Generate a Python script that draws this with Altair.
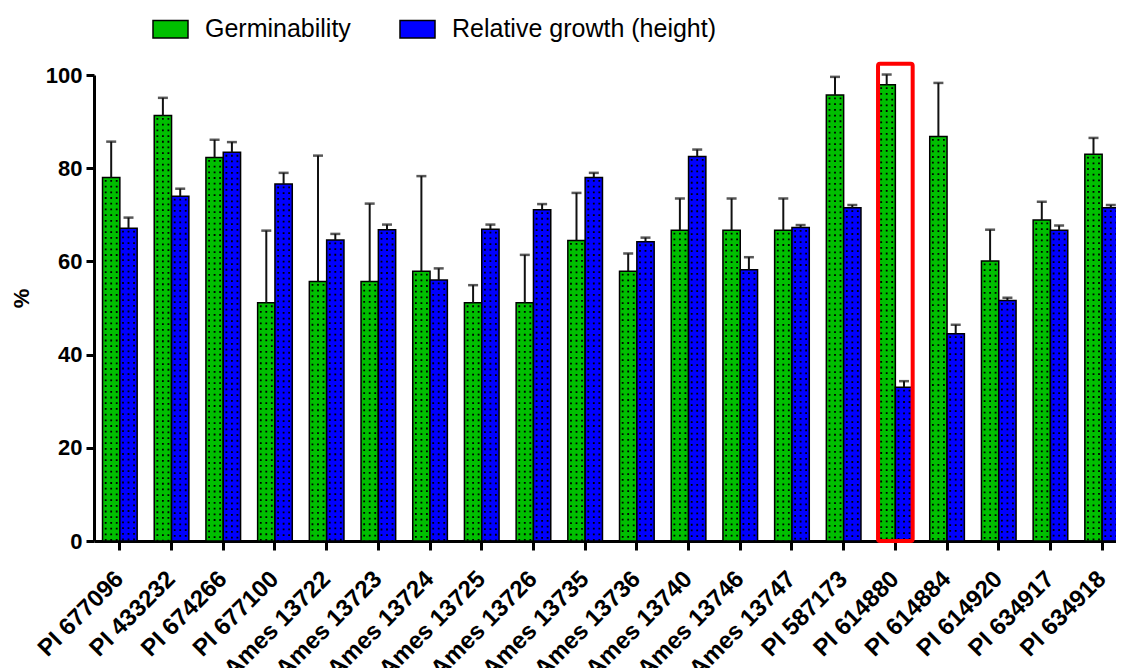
import altair as alt
import pandas as pd

categories = ["PI 677096", "PI 433232", "PI 674266", "PI 677100", "Ames 13722",
              "Ames 13723", "Ames 13724", "Ames 13725", "Ames 13726", "Ames 13735",
              "Ames 13736", "Ames 13740", "Ames 13746", "Ames 13747", "PI 587173",
              "PI 614880", "PI 614884", "PI 614920", "PI 634917", "PI 634918"]
germinability = [78.0, 91.3, 82.3, 51.1, 55.7, 55.7, 57.9, 51.1, 51.1, 64.5,
                 57.9, 66.7, 66.7, 66.7, 95.7, 97.9, 86.8, 60.1, 68.9, 83.0]
germinability_err = [7.7, 3.8, 3.8, 15.5, 27.0, 16.7, 20.4, 3.8, 10.3, 10.2,
                     3.8, 6.8, 6.8, 6.8, 3.9, 2.2, 11.5, 6.7, 3.9, 3.5]
growth = [67.1, 74.0, 83.4, 76.6, 64.6, 66.8, 56.0, 66.9, 71.1, 78.0,
          64.2, 82.5, 58.2, 67.3, 71.5, 33.0, 44.5, 51.6, 66.7, 71.5]
growth_err = [2.3, 1.6, 2.2, 2.4, 1.3, 1.1, 2.5, 1.0, 1.2, 1.0,
              0.9, 1.5, 2.7, 0.5, 0.6, 1.3, 1.9, 0.6, 1.0, 0.6]
series_names = ["Germinability", "Relative growth (height)"]
series_colors = ["#00BF00", "#0000FF"]
y_ticks = [0, 20, 40, 60, 80, 100]
highlight_category = "PI 614880"
highlight_top = 102.4

rows = []
for i, c in enumerate(categories):
    rows.append({"cat": c, "series": series_names[0], "value": germinability[i],
                 "upper": germinability[i] + germinability_err[i]})
    rows.append({"cat": c, "series": series_names[1], "value": growth[i],
                 "upper": growth[i] + growth_err[i]})
df = pd.DataFrame(rows)
hl = pd.DataFrame({"cat": [highlight_category], "top": [highlight_top]})

FONT = "Liberation Sans"

x_axis = alt.Axis(title=None, labelAngle=-45, labelAlign="right", labelBaseline="middle",
                  labelPadding=25, labelFont=FONT, labelFontSize=24, labelFontWeight="bold",
                  labelColor="black", domainColor="black", domainWidth=3, tickColor="black",
                  tickWidth=3, tickSize=9, labelOverlap=False, labelLimit=400, grid=False)
x_scale = alt.Scale(range=[0, 1034], paddingInner=0.33, paddingOuter=0.165)
y_scale = alt.Scale(domain=[0, 100], nice=False)
y_axis = alt.Axis(title="%", values=y_ticks, grid=False, labelFont=FONT,
                  labelFontSize=22, labelFontWeight="bold", labelColor="black",
                  labelPadding=4, tickSize=8, tickWidth=3, tickColor="black",
                  domainColor="black", domainWidth=3, titleFont=FONT,
                  titleFontSize=22, titleFontWeight="bold", titleColor="black",
                  titlePadding=12, titleY=223)


def xenc(**kw):
    return alt.X("cat:N", sort=categories, scale=x_scale, axis=x_axis, **kw)


def yenc(field):
    return alt.Y(field, scale=y_scale, axis=y_axis)


xo = alt.XOffset("series:N", sort=series_names, scale=alt.Scale(paddingInner=0, paddingOuter=0))

bars = alt.Chart(df).mark_bar(stroke="black", strokeWidth=1.5).encode(
    x=xenc(),
    xOffset=xo,
    y=yenc("value:Q"),
    color=alt.Color("series:N", sort=series_names,
                    scale=alt.Scale(domain=series_names, range=series_colors),
                    legend=alt.Legend(orient="none", legendX=58, legendY=-64.5,
                                      direction="horizontal", title=None,
                                      symbolType="M-1,-0.5H1V0.5H-1Z", symbolSize=1225,
                                      symbolStrokeColor="black", symbolStrokeWidth=1.5,
                                      symbolOpacity=1, labelFont=FONT, labelFontSize=25,
                                      labelColor="black", labelOffset=16, columnPadding=46,
                                      labelLimit=500, padding=0)),
)

dot_layers = []
positions = {series_names[0]: [0.091, 0.25, 0.409], series_names[1]: [0.591, 0.75, 0.909]}
for s in series_names:
    for p in positions[s]:
        dot_layers.append(
            alt.Chart(df).transform_filter(alt.datum.series == s)
            .mark_rule(color="black", strokeWidth=1.8, strokeDash=[1.8, 3.9], strokeDashOffset=-2.5)
            .encode(x=xenc(bandPosition=p), y=yenc("value:Q"), y2=alt.datum(0))
        )

err = alt.Chart(df).mark_rule(color="#111111", strokeWidth=2).encode(
    x=xenc(), xOffset=xo, y=yenc("value:Q"), y2="upper:Q")
caps = alt.Chart(df).mark_tick(color="#111111", thickness=2.5, size=10).encode(
    x=xenc(), xOffset=xo, y=yenc("upper:Q"))

box = alt.Chart(hl).mark_rect(stroke="#FF0000", strokeWidth=4, fillOpacity=0,
                              cornerRadius=2, x2Offset=17).encode(
    x=xenc(), y=yenc("top:Q"), y2=alt.datum(0))

chart = alt.layer(bars, *dot_layers, err, caps, box).properties(
    width=1022, height=466,
    autosize=alt.AutoSizeParams(type="none"),
    padding={"left": 86, "top": 67, "right": 0, "bottom": 127},
).configure(background="white").configure_view(strokeWidth=0).configure_axis(grid=False)

chart.save("out.html", embed_options={"renderer": "svg", "actions": False})
